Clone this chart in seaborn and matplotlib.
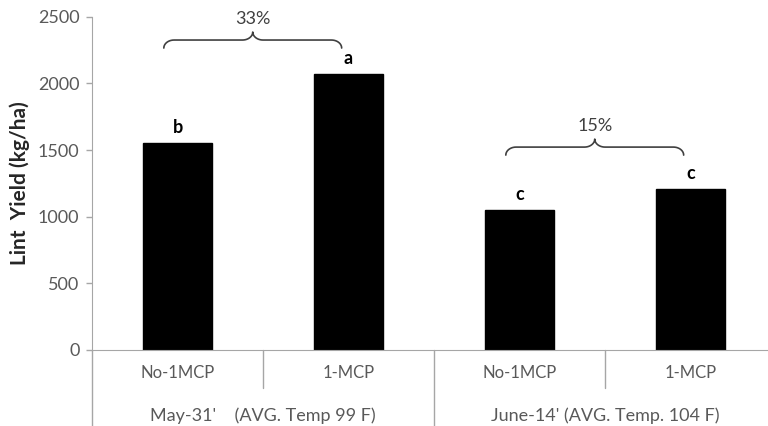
import numpy as np
import pandas as pd
import matplotlib
matplotlib.use("Agg")
import matplotlib.pyplot as plt
import seaborn as sns

# -------- DATA --------
treatments = ["No-1MCP", "1-MCP", "No-1MCP", "1-MCP"]
dates = ["May-31'    (AVG. Temp 99 F)", "May-31'    (AVG. Temp 99 F)",
         "June-14' (AVG. Temp. 104 F)", "June-14' (AVG. Temp. 104 F)"]
lint_yield = [1555, 2070, 1050, 1208]
letters = ["b", "a", "c", "c"]
increase_labels = ["33%", "15%"]
increase_pairs = [(0, 1), (2, 3)]
# ----------------------

df = pd.DataFrame({
    "key": [f"{d}|{t}|{i}" for i, (d, t) in enumerate(zip(dates, treatments))],
    "yield": lint_yield,
})

sns.set_style("white")
plt.rcParams["font.family"] = ["Lato", "DejaVu Sans"]

GRAY = "#595959"
LINE = "#a6a6a6"

fig = plt.figure(figsize=(7.68, 4.26), dpi=100)
ax = fig.add_axes([92 / 768, 76 / 426, 684 / 768, 333.3 / 426])

sns.barplot(data=df, x="key", y="yield", color="black", width=0.4,
            edgecolor="black", ax=ax)
for p in ax.patches:
    p.set_facecolor("black")

ax.set_xlim(-0.5, 3.5)
ax.set_ylim(0, 2500)
ax.set_yticks(np.arange(0, 2501, 500))
ax.tick_params(axis="y", colors=LINE, labelcolor=GRAY, labelsize=13,
               length=4, width=1, left=True, direction="out", pad=5)
ax.tick_params(axis="x", length=0, labelsize=12, labelcolor=GRAY, pad=11)
ax.set_xticks(range(len(treatments)))
ax.set_xticklabels(treatments)
ax.set_xlabel("")
ax.set_ylabel("Lint  Yield (kg/ha)", fontsize=15, fontweight="bold",
              color="#262626", labelpad=6)

for s in ["top", "right"]:
    ax.spines[s].set_visible(False)
ax.spines["left"].set_color(LINE)
ax.spines["bottom"].set_color(LINE)
ax.spines["left"].set_bounds(0, 2500)

# category separators below the axis
tr = ax.get_xaxis_transform()
ax.plot([-0.5, -0.5], [0, -0.23], color=LINE, lw=1, transform=tr, clip_on=False)
for xb in [0.5, 2.5]:
    ax.plot([xb, xb], [0, -0.115], color=LINE, lw=1, transform=tr, clip_on=False)
ax.plot([1.5, 1.5], [0, -0.23], color=LINE, lw=1, transform=tr, clip_on=False)

# group labels
group_names = [dates[0], dates[2]]
for g, name in enumerate(group_names):
    ax.text(2 * g + 0.5, -0.197, name, transform=tr, ha="center", va="center",
            fontsize=13, color=GRAY)

# significance letters
for i, (v, l) in enumerate(zip(lint_yield, letters)):
    ax.text(i, v + 115, l, ha="center", va="center", fontsize=13,
            fontweight="bold", color="black")


def brace(x0, x1, y, h, label):
    xm = (x0 + x1) / 2
    r = 0.06
    t = np.linspace(0, np.pi / 2, 12)
    # left half
    xs = list(x0 + r * (1 - np.cos(t)))
    ys = list(y - h + h * np.sin(t))
    xs += list(xm - r + r * np.sin(t))
    ys += list(y + h * (1 - np.cos(t)))
    # right half
    xs2 = list(xm + r - r * np.cos(t))
    ys2 = list(y + h - h * np.sin(t))
    xs2 += list(x1 - r * (1 - np.sin(t)))
    ys2 += list(y - h * (1 - np.cos(t)))
    ax.plot(xs + xs2, ys + ys2, color="#404040", lw=1.2, clip_on=False)
    ax.text(xm, y + h + 100, label, ha="center", va="center",
            fontsize=13, color="#404040")


brace_levels = [2325, 1522]
for (a, b), lab, yl in zip(increase_pairs, increase_labels, brace_levels):
    brace(a - 0.08, b - 0.04, yl, 60, lab)

fig.savefig("out.png", dpi=100)
